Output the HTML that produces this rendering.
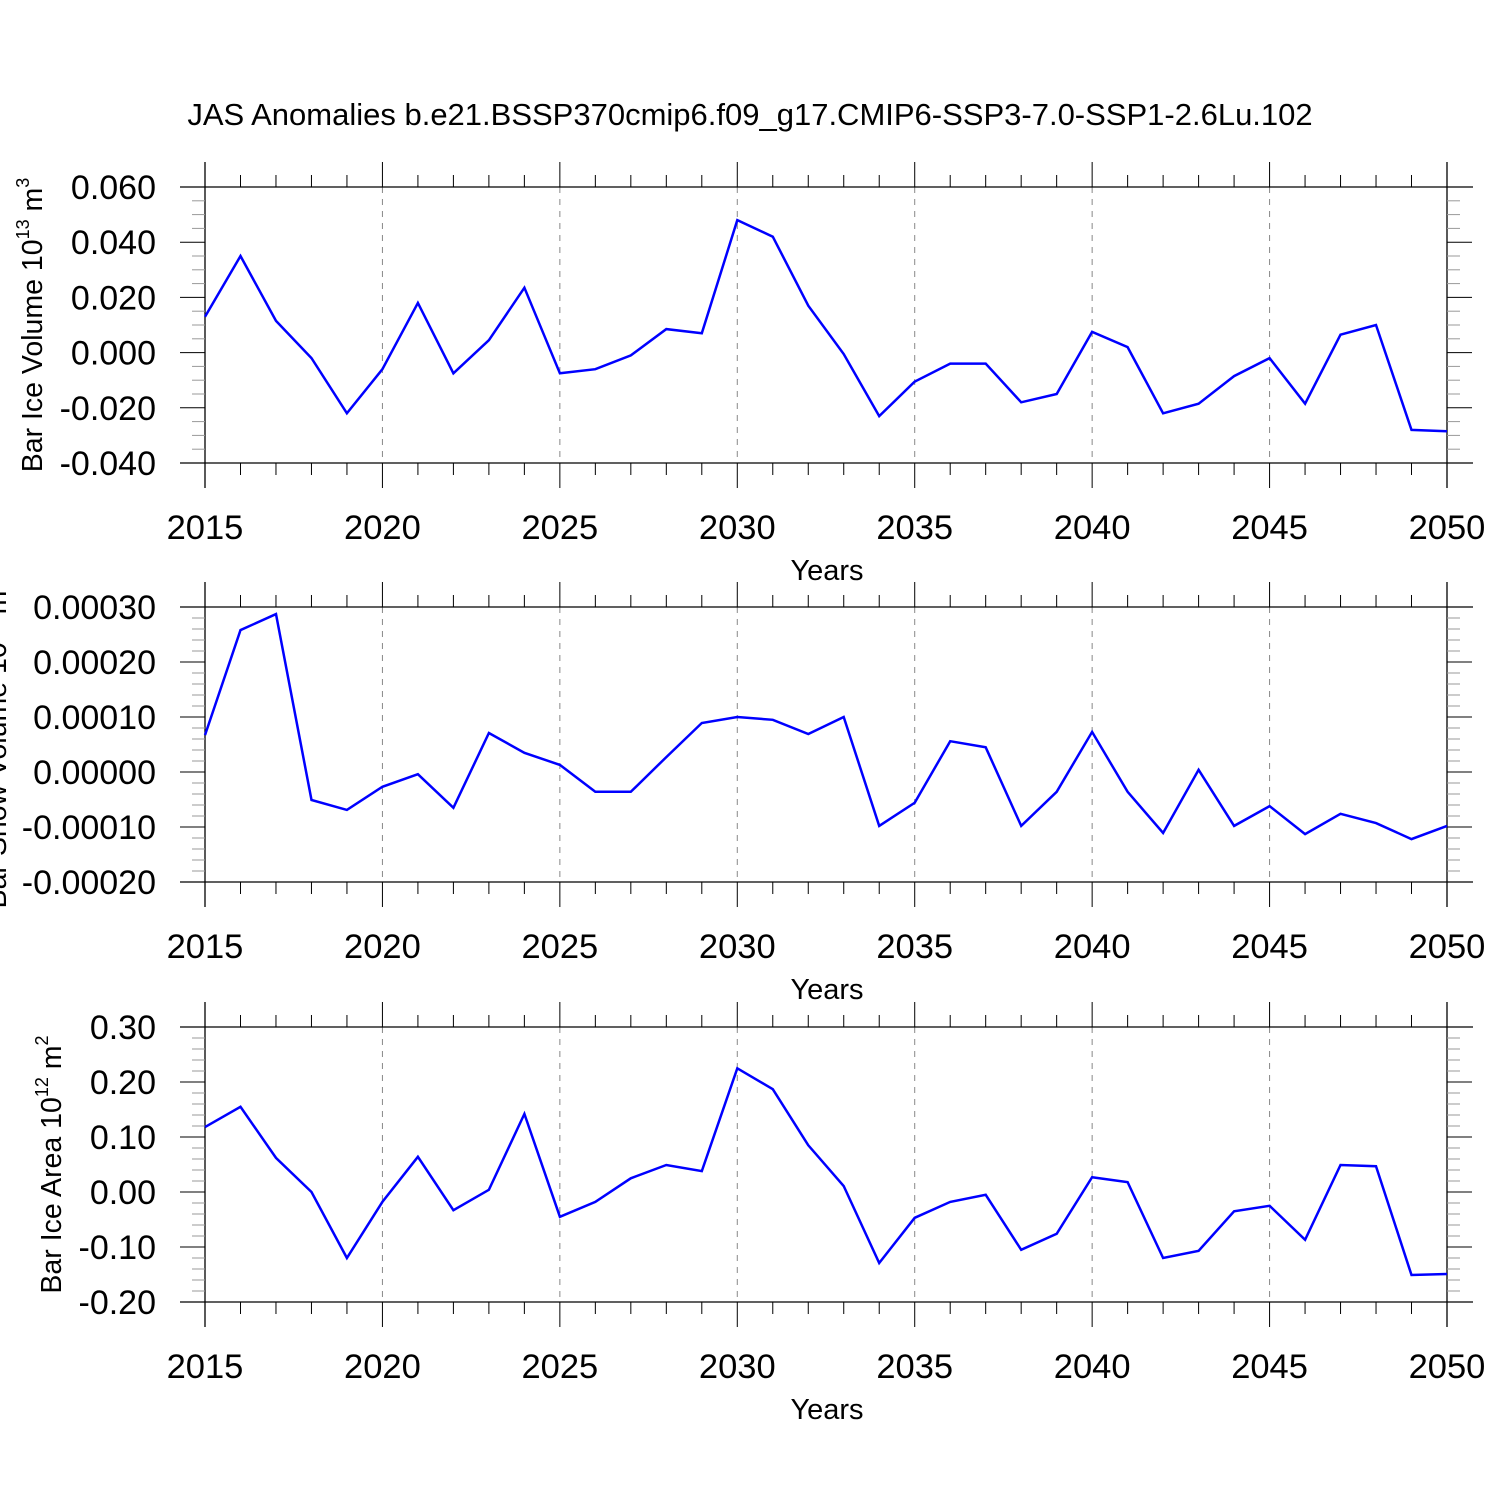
<!DOCTYPE html>
<html><head><meta charset="utf-8"><style>
html,body{margin:0;padding:0;background:#fff;}
svg{display:block;font-family:"Liberation Sans",Arial,sans-serif;}
</style></head><body>
<svg id="chart" width="1500" height="1500" viewBox="0 0 1500 1500" xmlns="http://www.w3.org/2000/svg">
<rect width="1500" height="1500" fill="#fff"/>
<text x="750" y="125" font-size="31" text-anchor="middle">JAS Anomalies b.e21.BSSP370cmip6.f09_g17.CMIP6-SSP3-7.0-SSP1-2.6Lu.102</text>
</svg>
<script>
const years = [2015,2016,2017,2018,2019,2020,2021,2022,2023,2024,2025,2026,2027,2028,2029,2030,2031,2032,2033,2034,2035,2036,2037,2038,2039,2040,2041,2042,2043,2044,2045,2046,2047,2048,2049,2050];
const iceVolume = [0.013,0.035,0.0115,-0.002,-0.022,-0.006,0.018,-0.0075,0.0045,0.0235,-0.0075,-0.006,-0.001,0.0085,0.007,0.048,0.042,0.017,-0.0005,-0.023,-0.0105,-0.004,-0.004,-0.018,-0.015,0.0075,0.002,-0.022,-0.0185,-0.0085,-0.002,-0.0185,0.0065,0.01,-0.028,-0.0285];
const snowVolume = [0.000067,0.000258,0.000287,-0.000051,-0.000069,-0.000027,-0.000004,-0.000065,0.000071,0.000035,0.000013,-0.000036,-0.000036,0.000027,0.000089,0.0001,0.000095,0.000069,0.0001,-0.000098,-0.000056,0.000056,0.000045,-0.000098,-0.000036,0.000073,-0.000036,-0.000111,0.000004,-0.000098,-0.000062,-0.000113,-0.000076,-0.000093,-0.000122,-0.000098];
const iceArea = [0.118,0.155,0.062,0.0,-0.12,-0.018,0.064,-0.033,0.004,0.142,-0.045,-0.018,0.025,0.049,0.038,0.225,0.187,0.085,0.011,-0.129,-0.047,-0.018,-0.005,-0.105,-0.076,0.027,0.018,-0.12,-0.107,-0.035,-0.025,-0.087,0.049,0.047,-0.151,-0.149];
const xTickLabels = ["2015","2020","2025","2030","2035","2040","2045","2050"];
const yTicks1 = ["0.060","0.040","0.020","0.000","-0.020","-0.040"];
const yTicks2 = ["0.00030","0.00020","0.00010","0.00000","-0.00010","-0.00020"];
const yTicks3 = ["0.30","0.20","0.10","0.00","-0.10","-0.20"];

const NS = "http://www.w3.org/2000/svg";
const svg = document.getElementById('chart');
function mk(tag, attrs, parent){
  const e = document.createElementNS(NS, tag);
  for (const k in attrs) e.setAttribute(k, attrs[k]);
  (parent||svg).appendChild(e); return e;
}
const X0 = 205, X1 = 1447, XMIN = 2015, XMAX = 2050;
const xs = v => X0 + (v - XMIN) / (XMAX - XMIN) * (X1 - X0);

function panel(name, top, bottom, yTickLabels, minorStep, values, labelParts, labelX){
  const g = mk('g', {});
  
  
  const ymax = parseFloat(yTickLabels[0]), ymin = parseFloat(yTickLabels[yTickLabels.length-1]);
  const ys = v => top + (ymax - v) / (ymax - ymin) * (bottom - top);
  for (let yr = 2020; yr <= 2045; yr += 5) {
    const l = mk('line', {x1: xs(yr), x2: xs(yr), y1: top, y2: bottom, stroke: '#888', 'stroke-width': 1, 'stroke-dasharray': '6,6'}, g);
    
    
  }
  const ax = 'stroke:#000;stroke-width:1.3';
  for (const yv of [top, bottom]) {
    const l = mk('line', {x1: 180, x2: 1473, y1: yv, y2: yv, style: ax}, g);
    
    
  }
  for (const xv of [X0, X1]) {
    const l = mk('line', {x1: xv, x2: xv, y1: top - 25, y2: bottom + 25, style: ax}, g);
    
    
  }
  for (let yr = XMIN; yr <= XMAX; yr++) {
    const major = (yr % 5 === 0);
    const len = major ? 25 : 12;
    const x = xs(yr);
    mk('line', {x1: x, x2: x, y1: top, y2: top - len, style: 'stroke:#000;stroke-width:1'}, g);
    mk('line', {x1: x, x2: x, y1: bottom, y2: bottom + len, style: 'stroke:#000;stroke-width:1'}, g);
  }
  xTickLabels.forEach(t => {
    const tx = mk('text', {x: xs(+t), y: bottom + 76, 'font-size': 34.5, 'text-anchor': 'middle'}, g);
    
    
    tx.textContent = t;
  });
  const xt = mk('text', {x: 827, y: bottom + 117, 'font-size': 29, 'text-anchor': 'middle'}, g);
  
  
  xt.textContent = 'Years';
  const nMinor = Math.round((ymax - ymin) / minorStep);
  for (let i = 0; i <= nMinor; i++) {
    const v = ymax - i * minorStep;
    const y = ys(v);
    const major = (i % Math.round((ymax - ymin) / (yTickLabels.length - 1) / minorStep) === 0);
    const len = major ? 25 : 13;
    const col = major ? '#000' : '#999';
    mk('line', {x1: X0, x2: X0 - len, y1: y, y2: y, stroke: col, 'stroke-width': 1}, g);
    mk('line', {x1: X1, x2: X1 + len, y1: y, y2: y, stroke: col, 'stroke-width': 1}, g);
  }
  yTickLabels.forEach(t => {
    const tx = mk('text', {x: 156, y: ys(parseFloat(t)) + 12, 'font-size': 34, 'text-anchor': 'end'}, g);
    
    
    tx.textContent = t;
  });
  const cy = (top + bottom) / 2;
  const yt = mk('text', {x: 0, y: 0, 'font-size': 28.5, 'text-anchor': 'middle', transform: `translate(${labelX},${cy}) rotate(-90)`}, g);
  
  
  const s1 = mk('tspan', {}, yt); s1.textContent = labelParts[0];
  const s2 = mk('tspan', {dy: -13, 'font-size': 18}, yt); s2.textContent = labelParts[1];
  const s3 = mk('tspan', {dy: 13}, yt); s3.textContent = ' ' + labelParts[2];
  const s4 = mk('tspan', {dy: -13, 'font-size': 18}, yt); s4.textContent = labelParts[3];
  const pts = values.map((v, i) => xs(years[i]).toFixed(1) + ',' + ys(v).toFixed(1)).join(' ');
  const pl = mk('polyline', {points: pts, fill: 'none', stroke: '#0000ff', 'stroke-width': 2.5, 'stroke-linejoin': 'miter'}, g);
  
  
}
panel('ice-volume', 187, 463, yTicks1, 0.005, iceVolume, ['Bar Ice Volume 10', '13', 'm', '3'], 42);
panel('snow-volume', 607, 882, yTicks2, 0.00002, snowVolume, ['Bar Snow Volume 10', '13', 'm', '3'], 6);
panel('ice-area', 1027, 1302, yTicks3, 0.02, iceArea, ['Bar Ice Area 10', '12', 'm', '2'], 61);
</script>
</body></html>
